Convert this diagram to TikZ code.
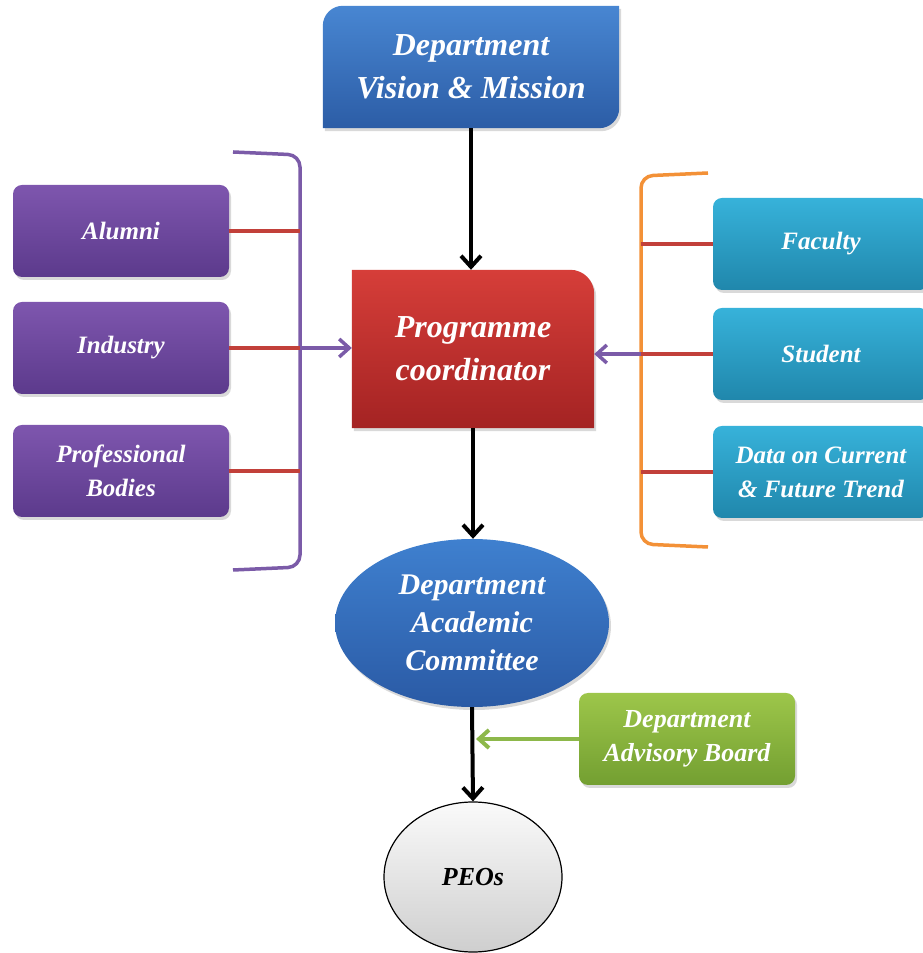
\documentclass[tikz,border=0pt]{standalone}
\usepackage{fontspec}
\setmainfont{Liberation Serif}
\usetikzlibrary{arrows.meta, shapes.geometric, shadows, backgrounds}

\definecolor{vmtop}{HTML}{4886D2}
\definecolor{vmbot}{HTML}{2C5DA6}
\definecolor{pctop}{HTML}{D63E39}
\definecolor{pcbot}{HTML}{A42323}
\definecolor{dactop}{HTML}{3F80CF}
\definecolor{dacbot}{HTML}{2A5AA5}
\definecolor{purptop}{HTML}{7E56AE}
\definecolor{purpbot}{HTML}{5C3A8C}
\definecolor{tealtop}{HTML}{37B2DA}
\definecolor{tealbot}{HTML}{2087AC}
\definecolor{grntop}{HTML}{9DC64A}
\definecolor{grnbot}{HTML}{739F31}
\definecolor{linkred}{HTML}{C2403A}
\definecolor{brackpurp}{HTML}{7B5BA8}
\definecolor{brackorange}{HTML}{F39137}
\definecolor{arrowgreen}{HTML}{8DB84A}

\tikzset{
  softshadow/.style={drop shadow={opacity=0.3, shadow xshift=2pt, shadow yshift=-3pt}},
  headbox/.style={text=white, align=center, minimum width=296pt, minimum height=122pt,
    font=\fontsize{32}{43}\selectfont\bfseries\itshape},
  headfill/.style={softshadow},
  sidebox/.style={text=white, align=center, rounded corners=9pt, softshadow,
    minimum width=216pt, minimum height=92pt,
    font=\fontsize{25}{34}\selectfont\bfseries\itshape},
  leftbox/.style={top color=purptop, bottom color=purpbot},
  rightbox/.style={top color=tealtop, bottom color=tealbot},
  dacbox/.style={ellipse, text=white, align=center, softshadow,
    minimum width=274pt, minimum height=168pt, inner sep=0pt,
    top color=dactop, bottom color=dacbot,
    font=\fontsize{30}{38}\selectfont\bfseries\itshape},
  peobox/.style={ellipse, draw=black, line width=1.2pt, minimum width=178pt, minimum height=150pt,
    top color=white!96!gray, bottom color=gray!38,
    font=\fontsize{26}{30}\selectfont\bfseries\itshape},
  dabbox/.style={sidebox, top color=grntop, bottom color=grnbot,
    font=\fontsize{26}{34}\selectfont\bfseries\itshape},
  blackarrow/.style={line width=4pt, -{Straight Barb[length=11pt, width=20pt]}},
  purparrow/.style={line width=3.5pt, draw=brackpurp, -{Straight Barb[length=10pt, width=18pt]}},
  grnarrow/.style={line width=4pt, draw=arrowgreen, -{Straight Barb[length=10pt, width=18pt]}},
  redline/.style={line width=3.5pt, draw=linkred},
  brackline/.style={line width=3.5pt, rounded corners=12pt}
}

\begin{document}
\begin{tikzpicture}[x=1pt, y=1pt]
  \useasboundingbox (0,0) rectangle (923,953);

  % main column
  \node[headbox] (vm) at (471,886) {Department\\Vision \& Mission};
  \node[headbox, minimum width=242pt, minimum height=158pt] (pc) at (473,604) {Programme\\coordinator};
  \node[dacbox] (dac) at (472,330) {Department\\Academic\\Committee};
  \node[peobox] (peo) at (473,76) {PEOs};
  \node[dabbox] (dab) at (687,214) {Department\\Advisory Board};

  \begin{scope}[on background layer]
    \shade[headfill, top color=vmtop, bottom color=vmbot] (vm.south west) -- ([yshift=-20pt]vm.north west)
      arc[start angle=180, end angle=90, radius=20pt] -- (vm.north east) -- ([yshift=20pt]vm.south east)
      arc[start angle=0, end angle=-90, radius=20pt] -- cycle;
    \shade[headfill, top color=pctop, bottom color=pcbot] (pc.south west) -- (pc.north west)
      -- ([xshift=-24pt]pc.north east) arc[start angle=90, end angle=0, radius=24pt] -- (pc.south east) -- cycle;
  \end{scope}

  % left inputs
  \node[sidebox, leftbox] (alumni) at (121,722) {Alumni};
  \node[sidebox, leftbox] (industry) at (121,605) {Industry};
  \node[sidebox, leftbox] (profbody) at (121,482) {Professional\\Bodies};

  % right inputs
  \node[sidebox, rightbox] (faculty) at (821,709) {Faculty};
  \node[sidebox, rightbox] (student) at (821,599) {Student};
  \node[sidebox, rightbox] (trend) at (821,481) {Data on Current\\\& Future Trend};

  % brackets
  \coordinate (lbr) at (300,604);
  \coordinate (rbr) at (641,600);
  \draw[brackline, draw=brackpurp] (233,801) -- (300,798) -- (300,386) -- (233,383);
  \draw[brackline, draw=brackorange] (708,780) -- (641,777) -- (641,409) -- (708,406);

  \draw[redline] (alumni.east) -- (alumni.east -| lbr);
  \draw[redline] (industry.east) -- (industry.east -| lbr);
  \draw[redline] (profbody.east) -- (profbody.east -| lbr);
  \draw[redline] (faculty.west) -- (faculty.west -| rbr);
  \draw[redline] (student.west) -- (student.west -| rbr);
  \draw[redline] (trend.west) -- (trend.west -| rbr);

  \draw[purparrow] (industry.east -| lbr) -- (industry.east -| pc.west);
  \draw[purparrow] (student.west -| rbr) -- (student.west -| pc.east);

  % flow
  \draw[blackarrow] (vm.south) -- (vm.south |- pc.north);
  \draw[blackarrow] (pc.south) -- (pc.south |- dac.north);
  \draw[blackarrow] (dac.south) -- (peo.north);
  \draw[grnarrow] (dab.west) -- ([xshift=4pt]dab.west -| dac.south);
\end{tikzpicture}
\end{document}
